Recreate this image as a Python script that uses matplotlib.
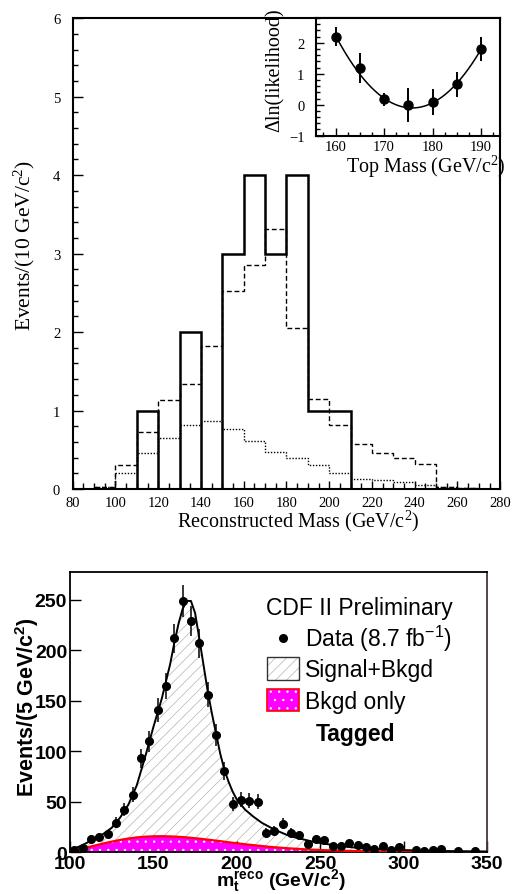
import numpy as np
import matplotlib
matplotlib.use('Agg')
import matplotlib.pyplot as plt
from matplotlib.patches import Rectangle
from matplotlib.lines import Line2D
from matplotlib.ticker import MultipleLocator

plt.rcParams['mathtext.default'] = 'regular'
plt.rcParams['hatch.linewidth'] = 0.5

# ---------------- top histogram (10 GeV bins) ----------------
mass_edges = list(range(80, 290, 10))
data_counts = [0, 0, 0, 1, 0, 2, 0, 3, 4, 3, 4, 1, 1, 0, 0, 0, 0, 0, 0, 0]
sig_bkg_expect = [0, 0.02, 0.30, 0.73, 1.13, 1.34, 1.82, 2.53, 2.85, 3.32,
                  2.05, 1.15, 0.82, 0.58, 0.46, 0.40, 0.32, 0.03, 0.01, 0]
bkg_expect = [0, 0.02, 0.20, 0.46, 0.65, 0.81, 0.87, 0.77, 0.61, 0.47,
              0.40, 0.31, 0.20, 0.13, 0.115, 0.09, 0.05, 0.02, 0.01, 0]

# ---------------- inset likelihood ----------------
inset_mass = [160, 165, 170, 175, 180, 185, 190]
inset_dlnl = [2.2, 1.18, 0.17, 0.0, 0.09, 0.66, 1.8]
inset_err = [0.32, 0.48, 0.2, 0.55, 0.43, 0.4, 0.38]

# ---------------- bottom: tagged sample (5 GeV bins) ----------------
tagged_mass = [102.5, 107.5, 112.5, 117.5, 122.5, 127.5, 132.5, 137.5, 142.5, 147.5,
               152.5, 157.5, 162.5, 167.5, 172.5, 177.5, 182.5, 187.5, 192.5, 197.5,
               202.5, 207.5, 212.5, 217.5, 222.5, 227.5, 232.5, 237.5, 242.5, 247.5,
               252.5, 257.5, 262.5, 267.5, 272.5, 277.5, 282.5, 287.5, 292.5, 297.5,
               307.5, 312.5, 317.5, 322.5, 332.5, 342.5]
tagged_counts = [2, 4, 13, 15, 18, 29, 42, 57, 93, 110,
                 141, 165, 212, 249, 229, 207, 156, 116, 80, 48,
                 52, 51, 50, 19, 21, 28, 19, 17, 8, 13,
                 12, 6, 6, 9, 7, 5, 3, 6, 2, 5,
                 2, 1, 2, 3, 1, 1]

fit_mass = [100, 105, 110, 115, 120, 125, 130, 135, 140, 145, 150, 155, 160, 162.5,
            165, 167.5, 170, 172.5, 175, 177.5, 180, 182.5, 185, 187.5, 190, 192.5,
            195, 197.5, 200, 205, 210, 215, 220, 225, 230, 235, 240, 245, 250, 260,
            270, 280, 290, 300, 320, 350]
fit_sig_bkg = [2.5, 5, 9, 13.5, 18, 24, 34, 47, 66, 94, 124, 152, 186, 207,
               226, 241, 249, 249, 237, 212, 186, 160, 138, 118, 98, 82,
               70, 60, 52, 42, 35, 29, 24.5, 20.5, 17, 14.5, 12.5, 10.5, 9, 6.3,
               4.5, 3.3, 2.5, 1.9, 1.1, 0.5]
bkg_mass = [100, 105, 110, 115, 120, 125, 130, 135, 140, 145, 150, 155, 160, 165,
            170, 175, 180, 185, 190, 195, 200, 205, 210, 220, 230, 240, 250, 260,
            270, 280, 300, 325, 350]
bkg_only = [0.8, 2.5, 4.5, 6.5, 8.5, 10.3, 12, 13.4, 14.5, 15.2, 15.6, 15.7, 15.5, 15.1,
            14.5, 13.7, 12.8, 11.8, 10.8, 9.7, 8.7, 7.7, 6.8, 5.1, 3.8, 2.8, 2.0, 1.4,
            1.0, 0.7, 0.35, 0.15, 0.05]

SERIF = 'Liberation Serif'
SANS = 'Liberation Sans'
HATCH_GRAY = '#b4b4b4'

fig = plt.figure(figsize=(5.12, 8.95), dpi=100)

# ======================= top panel =======================
ax1 = fig.add_axes([0.142, 0.4525, 0.835, 0.526])
ax1.stairs(data_counts, mass_edges, color='black', lw=1.8, baseline=0)
ax1.stairs(sig_bkg_expect, mass_edges, color='black', lw=1.0,
           linestyle=(0, (3.5, 2)), baseline=None)
ax1.stairs(bkg_expect, mass_edges, color='black', lw=1.0,
           linestyle=(0, (1, 1.2)), baseline=None)
ax1.set_xlim(80, 280)
ax1.set_ylim(0, 6)
ax1.xaxis.set_major_locator(MultipleLocator(20))
ax1.xaxis.set_minor_locator(MultipleLocator(5))
ax1.yaxis.set_major_locator(MultipleLocator(1))
ax1.yaxis.set_minor_locator(MultipleLocator(0.2))
ax1.tick_params(which='both', direction='in', top=False, right=False, width=1.0)
ax1.tick_params(axis='y', which='major', length=7, pad=9)
ax1.tick_params(axis='y', which='minor', length=3.5)
ax1.tick_params(axis='x', which='major', length=5.5, pad=5)
ax1.tick_params(axis='x', which='minor', length=4)
for s in ax1.spines.values():
    s.set_linewidth(1.5)
for lab in ax1.get_xticklabels() + ax1.get_yticklabels():
    lab.set_fontfamily(SERIF)
    lab.set_fontsize(10.5)
ax1.set_xlabel('Reconstructed Mass (GeV/c$^{2}$)', fontfamily=SERIF, fontsize=14.5)
ax1.xaxis.set_label_coords(0.527, -0.067)
ax1.xaxis.label.set_va('center')
ax1.set_ylabel('Events/(10 GeV/c$^{2}$)', fontfamily=SERIF, fontsize=15.5)
ax1.yaxis.set_label_coords(-0.112, 0.52)
ax1.yaxis.label.set_va('center')

# ======================= inset =======================
ax2 = fig.add_axes([0.6166, 0.8473, 0.36, 0.1315])
coef = np.polyfit(inset_mass, inset_dlnl, 2, w=1.0 / np.asarray(inset_err))
xs = np.linspace(min(inset_mass), max(inset_mass), 200)
ax2.plot(xs, np.polyval(coef, xs), color='black', lw=1.1)
ax2.errorbar(inset_mass, inset_dlnl, yerr=inset_err, fmt='o', color='black',
             ms=6.5, elinewidth=1.4, capsize=0)
ax2.set_xlim(155.9, 193.9)
ax2.set_ylim(-1, 2.8)
ax2.xaxis.set_major_locator(MultipleLocator(10))
ax2.xaxis.set_minor_locator(MultipleLocator(2.5))
ax2.yaxis.set_major_locator(MultipleLocator(1))
ax2.yaxis.set_minor_locator(MultipleLocator(0.2))
ax2.tick_params(which='both', direction='in', top=False, right=False, width=1.0)
ax2.tick_params(which='major', length=6)
ax2.tick_params(which='minor', length=3)
ax2.tick_params(axis='y', pad=8)
ax2.tick_params(axis='x', pad=3)
for s in ax2.spines.values():
    s.set_linewidth(1.5)
for lab in ax2.get_xticklabels() + ax2.get_yticklabels():
    lab.set_fontfamily(SERIF)
    lab.set_fontsize(10.5)
ax2.set_xlabel('Top Mass (GeV/c$^{2}$)', fontfamily=SERIF, fontsize=14.5)
ax2.xaxis.set_label_coords(0.597, -0.255)
ax2.xaxis.label.set_va('center')
ax2.set_ylabel('\u0394ln(likelihood)', fontfamily=SERIF, fontsize=14.5)
ax2.yaxis.set_label_coords(-0.221, 0.567)
ax2.yaxis.label.set_va('center')

# ======================= bottom panel =======================
ax3 = fig.add_axes([0.1367, 0.0469, 0.8145, 0.3132])
ax3.fill_between(fit_mass, 0, fit_sig_bkg, facecolor='white', edgecolor=HATCH_GRAY,
                 hatch='///', lw=0, zorder=1)
ax3.fill_between(bkg_mass, 0, bkg_only, facecolor='#ff00ff', edgecolor='white',
                 hatch='..', lw=0, zorder=2)
ax3.plot(bkg_mass, bkg_only, color='red', lw=1.6, zorder=3)
ax3.plot(fit_mass, fit_sig_bkg, color='black', lw=1.4, zorder=4)
ax3.errorbar(tagged_mass, tagged_counts, yerr=np.sqrt(tagged_counts), fmt='o',
             color='black', ms=5.5, elinewidth=1.1, capsize=0, zorder=5)
ax3.set_xlim(100, 350)
ax3.set_ylim(0, 278)
ax3.xaxis.set_major_locator(MultipleLocator(50))
ax3.yaxis.set_major_locator(MultipleLocator(50))
ax3.tick_params(which='both', direction='in', top=False, right=False, width=1.0,
                length=8, pad=2)
for s in ax3.spines.values():
    s.set_linewidth(1.3)
ax3.spines['right'].set_color('#4a3535')
for lab in ax3.get_xticklabels() + ax3.get_yticklabels():
    lab.set_fontfamily(SANS)
    lab.set_fontweight('bold')
    lab.set_fontsize(14)
ax3.set_xlabel('$m_t^{reco}$ (GeV/c$^{2}$)', fontfamily=SANS, fontweight='bold',
               fontsize=14)
ax3.xaxis.set_label_coords(0.506, -0.099)
ax3.xaxis.label.set_va('center')
ax3.set_ylabel('Events/(5 GeV/c$^{2}$)', fontfamily=SANS, fontweight='bold',
               fontsize=15.5)
ax3.yaxis.set_label_coords(-0.103, 0.52)
ax3.yaxis.label.set_va('center')

# legend block
T = ax3.transAxes
ax3.text(0.693, 0.849, 'CDF II Preliminary', transform=T, ha='center', va='baseline',
         fontfamily=SANS, fontsize=16.5)
ax3.add_line(Line2D([0.510], [0.763], marker='o', ms=5.5, color='black', transform=T))
ax3.text(0.5636, 0.736, 'Data (8.7 fb$^{-1}$)', transform=T, ha='left', va='baseline',
         fontfamily=SANS, fontsize=16.5)
ax3.add_patch(Rectangle((0.473, 0.615), 0.076, 0.080, transform=T, facecolor='white',
                        edgecolor=HATCH_GRAY, hatch='///', lw=0, zorder=6))
ax3.add_patch(Rectangle((0.473, 0.615), 0.076, 0.080, transform=T, fill=False,
                        edgecolor='#333333', lw=1.0, zorder=7))
ax3.text(0.5636, 0.629, 'Signal+Bkgd', transform=T, ha='left', va='baseline',
         fontfamily=SANS, fontsize=16.5)
ax3.add_patch(Rectangle((0.473, 0.502), 0.076, 0.079, transform=T, facecolor='#ff00ff',
                        edgecolor='white', hatch='..', lw=0, zorder=6))
ax3.add_patch(Rectangle((0.473, 0.502), 0.076, 0.079, transform=T, fill=False,
                        edgecolor='red', lw=1.2, zorder=7))
ax3.text(0.5636, 0.513, 'Bkgd only', transform=T, ha='left', va='baseline',
         fontfamily=SANS, fontsize=16.5)
ax3.text(0.685, 0.40, 'Tagged', transform=T, ha='center', va='baseline',
         fontfamily=SANS, fontweight='bold', fontsize=16.5)

fig.savefig('out.png', dpi=100)
